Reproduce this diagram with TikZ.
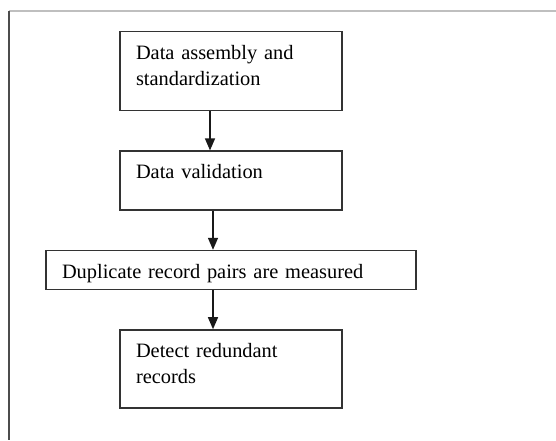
\documentclass[tikz,border=0pt]{standalone}
\usepackage{fontspec}
\setmainfont{Liberation Serif}
\usepackage{tikz}
\usetikzlibrary{positioning, arrows.meta}

\begin{document}
\begin{tikzpicture}[
    stage/.style={draw=black!80, line width=0.7pt, text width=95pt,
      inner xsep=8pt, inner ysep=0pt, text height=13.75pt,
      font=\fontsize{10.2pt}{13pt}\selectfont, align=left},
    flow/.style={-{Triangle[width=5pt,length=6pt]}, line width=0.7pt, black!90},
    node distance=19.5pt,
  ]
    \useasboundingbox (0,0) rectangle (278pt,-220pt);
    % outer frame, cut off at the page edges
    \draw[black!25, line width=1pt] (4.5pt,-5.5pt) -- (278pt,-5.5pt);
    \draw[black!70, line width=1pt] (4.5pt,-5.5pt) -- (4.5pt,-220pt);

    \node[stage, text depth=25.75pt, anchor=north] (assembly) at (115.5pt,-15.5pt)
      {Data assembly and\\standardization};
    \node[stage, text depth=15.75pt, below=of assembly] (validation) {Data validation};
    \node[stage, text depth=5.75pt, text width=169pt, below=of validation] (pairs)
      {Duplicate record pairs are measured};
    \node[stage, text depth=25.25pt, below=of pairs] (detect) {Detect redundant\\records};

    \draw[flow] ([xshift=-10.5pt]assembly.south) -- ([xshift=-10.5pt]validation.north);
    \draw[flow] ([xshift=-9pt]validation.south) -- ([xshift=-9pt]pairs.north);
    \draw[flow] ([xshift=-9pt]pairs.south) -- ([xshift=-9pt]detect.north);
  \end{tikzpicture}
\end{document}
